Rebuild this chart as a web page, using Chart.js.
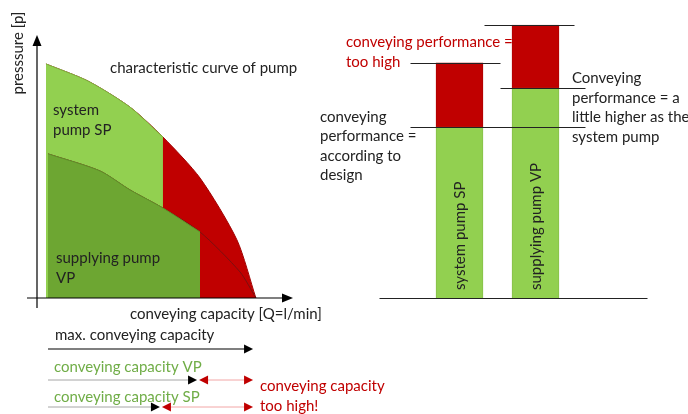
<!DOCTYPE html>
<html>
<head>
<meta charset="utf-8">
<script src="https://cdn.jsdelivr.net/npm/chart.js@4"></script>
<style>
  body { margin: 0; background: #fff; width: 688px; height: 414px; overflow: hidden; }
  canvas { position: absolute; top: 0; }
  #curveChart { left: 0; }
  #barChart { left: 300px; }
</style>
</head>
<body>
<canvas id="curveChart" width="400" height="414"></canvas>
<canvas id="barChart" width="388" height="414"></canvas>
<script>
// characteristic curves (Q in % of axis, p in % of axis)
var spQ = [3.5, 19.9, 36.3, 49.2, 63.7, 78.1, 85.5];
var spP = [89.0, 82.5, 72.6, 61.2, 45.6, 22.1, 0];
var vpQ = [4.3, 24.6, 36.3, 49.2, 63.7, 79.3, 85.5];
var vpP = [54.8, 48.3, 41.1, 34.2, 25.1, 9.9, 0];

// conveying capacities for the arrows below the chart
var capStart = 4.3;
var capMax = 84.4;
var capVP = 63.7;
var capSP = 49.2;

// bar chart
var pumpNames = ['system pump SP', 'supplying pump VP'];
var designPerf = [61, 75];
var extraPerf = [23, 22.5];

var FONT = 'Lato, "Open Sans", sans-serif';
var GREEN_L = '#92D050';
var GREEN_D = '#6DA632';
var RED = '#C00000';

function pts(xs, ys, n) {
  var out = [];
  for (var i = 0; i < n; i++) out.push({x: xs[i], y: ys[i]});
  return out;
}

function arrowHead(c, x, y, dir, col) {
  c.fillStyle = col;
  c.beginPath();
  c.moveTo(x, y);
  c.lineTo(x - dir * 9, y - 4.5);
  c.lineTo(x - dir * 9, y + 4.5);
  c.closePath();
  c.fill();
}

var curveDeco = {
  id: 'curveDeco',
  afterDraw: function(chart) {
    var c = chart.ctx;
    var xs = chart.scales.x;
    var a = chart.chartArea;
    c.save();
    // axes
    c.strokeStyle = '#000';
    c.lineWidth = 1.2;
    c.beginPath();
    c.moveTo(a.left, a.bottom + 10); c.lineTo(a.left, a.top + 8);
    c.moveTo(a.left - 10, a.bottom); c.lineTo(a.right - 8, a.bottom);
    c.stroke();
    c.fillStyle = '#000';
    c.beginPath();
    c.moveTo(a.left, a.top); c.lineTo(a.left - 4.5, a.top + 11); c.lineTo(a.left + 4.5, a.top + 11); c.closePath();
    c.fill();
    c.beginPath();
    c.moveTo(a.right, a.bottom); c.lineTo(a.right - 11, a.bottom - 4.5); c.lineTo(a.right - 11, a.bottom + 4.5); c.closePath();
    c.fill();

    c.font = '15px ' + FONT;
    c.textBaseline = 'middle';
    c.fillStyle = '#222';
    c.save();
    c.translate(18, 53);
    c.rotate(-Math.PI / 2);
    c.textAlign = 'center';
    c.fillText('presssure [p]', 0, 0);
    c.restore();
    c.textAlign = 'left';
    c.fillText('characteristic curve of pump', 110, 68);
    c.fillText('system', 53, 110);
    c.fillText('pump SP', 53, 130);
    c.fillText('supplying pump', 56, 258);
    c.fillText('VP', 56, 278);
    c.fillText('conveying capacity [Q=l/min]', 130, 314);
    c.fillText('max. conveying capacity', 55, 335);
    c.fillStyle = '#70AD47';
    c.fillText('conveying capacity VP', 54, 367);
    c.fillText('conveying capacity SP', 54, 397);
    c.fillStyle = RED;
    c.fillText('conveying capacity', 260, 386);
    c.fillText('too high!', 260, 406);

    var x0 = xs.getPixelForValue(capStart);
    var xm = xs.getPixelForValue(capMax);
    // max arrow
    c.strokeStyle = '#000';
    c.lineWidth = 1.2;
    c.beginPath(); c.moveTo(x0, 349); c.lineTo(xm - 6, 349); c.stroke();
    arrowHead(c, xm, 349, 1, '#000');
    // VP / SP arrows
    [[capVP, 380], [capSP, 407]].forEach(function(r) {
      var xc = xs.getPixelForValue(r[0]);
      c.strokeStyle = '#A6A6A6';
      c.lineWidth = 1;
      c.beginPath(); c.moveTo(x0, r[1]); c.lineTo(xc - 8, r[1]); c.stroke();
      arrowHead(c, xc - 3, r[1], 1, '#000');
      c.strokeStyle = '#F2A6A6';
      c.beginPath(); c.moveTo(xc + 4, r[1]); c.lineTo(xm - 5, r[1]); c.stroke();
      arrowHead(c, xc - 1, r[1], -1, RED);
      arrowHead(c, xm, r[1], 1, RED);
    });
    c.restore();
  }
};

new Chart(document.getElementById('curveChart').getContext('2d'), {
  type: 'line',
  data: {
    datasets: [
      { data: pts(vpQ, vpP, 5), fill: 'origin', backgroundColor: GREEN_D, borderColor: '#5E962A', borderWidth: 1, pointRadius: 0, tension: 0.25, order: 1 },
      { data: pts(vpQ, vpP, vpQ.length), fill: false, borderColor: '#7A1010', borderWidth: 1, pointRadius: 0, tension: 0.25, order: 2 },
      { data: pts(spQ, spP, 4), fill: 'origin', backgroundColor: GREEN_L, borderColor: '#7CB842', borderWidth: 1, pointRadius: 0, tension: 0.25, order: 3 },
      { data: pts(spQ, spP, spQ.length), fill: 'origin', backgroundColor: RED, borderColor: '#A00000', borderWidth: 1, pointRadius: 0, tension: 0.25, order: 4 }
    ]
  },
  options: {
    responsive: false,
    animation: false,
    layout: { padding: { left: 37, top: 35, right: 107, bottom: 116 } },
    scales: {
      x: { type: 'linear', min: 0, max: 100, display: false },
      y: { min: 0, max: 100, display: false }
    },
    plugins: { legend: { display: false }, tooltip: { enabled: false } }
  },
  plugins: [curveDeco]
});

var barDeco = {
  id: 'barDeco',
  afterDraw: function(chart) {
    var c = chart.ctx;
    var xs = chart.scales.x, ys = chart.scales.y;
    var c1 = xs.getPixelForValue(0), c2 = xs.getPixelForValue(1);
    c.save();
    c.strokeStyle = '#222';
    c.lineWidth = 1;
    function hl(x1, x2, v) {
      var y = Math.round(ys.getPixelForValue(v)) + 0.5;
      c.beginPath(); c.moveTo(x1, y); c.lineTo(x2, y); c.stroke();
    }
    hl(c1 - 80, c2 + 112, 0);
    hl(c1 - 49, c1 + 41, designPerf[0] + extraPerf[0]);
    hl(c2 - 51, c2 + 39, designPerf[1] + extraPerf[1]);
    hl(c2 - 35, c2 + 50, designPerf[1]);
    hl(c1 - 49, c2 + 50, designPerf[0]);

    c.font = '15px ' + FONT;
    c.textBaseline = 'middle';
    c.textAlign = 'left';
    c.fillStyle = RED;
    c.fillText('conveying performance =', 46, 42);
    c.fillText('too high', 46, 62);
    c.fillStyle = '#222';
    ['Conveying', 'performance = a', 'little higher as the', 'system pump'].forEach(function(t, i) {
      c.fillText(t, 272, 78 + i * 19.7);
    });
    ['conveying', 'performance =', 'according to', 'design'].forEach(function(t, i) {
      c.fillText(t, 20, 117 + i * 19.4);
    });
    [c1, c2].forEach(function(cx, i) {
      c.save();
      c.translate(cx, ys.getPixelForValue(0) - 8);
      c.rotate(-Math.PI / 2);
      c.fillText(pumpNames[i], 0, 1);
      c.restore();
    });
    c.restore();
  }
};

new Chart(document.getElementById('barChart').getContext('2d'), {
  type: 'bar',
  data: {
    labels: pumpNames,
    datasets: [
      { data: designPerf, backgroundColor: GREEN_L, borderColor: '#86BF4A', borderWidth: 1, barThickness: 47 },
      { data: extraPerf, backgroundColor: RED, borderColor: '#B00000', borderWidth: 1, barThickness: 47 }
    ]
  },
  options: {
    responsive: false,
    animation: false,
    layout: { padding: { left: 121.5, top: 18, right: 114.5, bottom: 116 } },
    scales: {
      x: { stacked: true, display: false },
      y: { stacked: true, min: 0, max: 100, display: false }
    },
    plugins: { legend: { display: false }, tooltip: { enabled: false } }
  },
  plugins: [barDeco]
});
</script>
</body>
</html>
